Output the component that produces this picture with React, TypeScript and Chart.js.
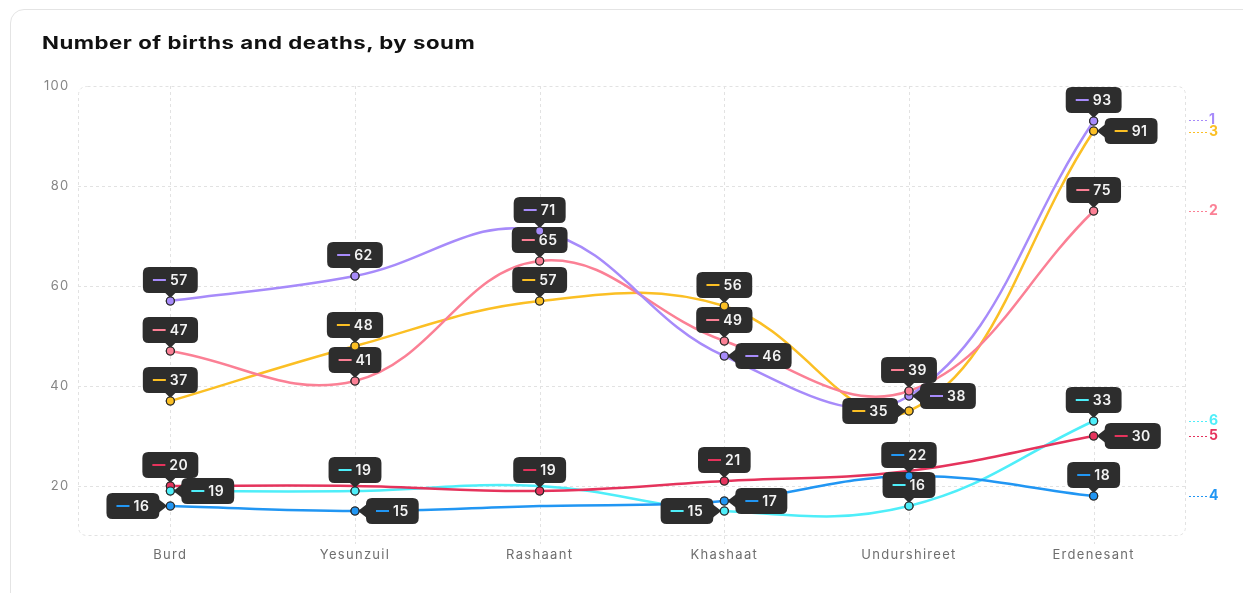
import React, { useEffect, useRef } from "react";
import { Chart, registerables } from "chart.js";

Chart.register(...registerables);

const categories = ["Burd", "Yesunzuil", "Rashaant", "Khashaat", "Undurshireet", "Erdenesant"];
const seriesNames = ["1", "2", "3", "4", "5", "6"];
const series1 = [57, 62, 71, 46, 38, 93];
const series2 = [47, 41, 65, 49, 39, 75];
const series3 = [37, 48, 57, 56, 35, 91];
const series4 = [16, 15, 16, 17, 22, 18];
const series5 = [20, 20, 19, 21, 23, 30];
const series6 = [19, 19, 20, 15, 16, 33];
const yTicks = [20, 40, 60, 80, 100];

const colors = ["#a78bfa", "#fb8095", "#fbbf24", "#2196f3", "#e5335c", "#4eeef9"];
// where each value badge sits relative to its point (null = no marker, no badge)
const labelSides: (string | null)[][] = [
  ["top", "top", "top", "right", "right", "top"],
  ["top", "top", "top", "top", "top", "top"],
  ["top", "top", "top", "top", "left", "right"],
  ["left", "right", null, "right", "top", "top"],
  ["top", null, "top", "top", null, "right"],
  ["right", "top", null, "left", "top", "top"],
];

const FONT = "Inter, 'Noto Sans', sans-serif";

function rr(ctx: CanvasRenderingContext2D, x: number, y: number, w: number, h: number, r: number) {
  ctx.beginPath();
  ctx.moveTo(x + r, y);
  ctx.lineTo(x + w - r, y);
  ctx.quadraticCurveTo(x + w, y, x + w, y + r);
  ctx.lineTo(x + w, y + h - r);
  ctx.quadraticCurveTo(x + w, y + h, x + w - r, y + h);
  ctx.lineTo(x + r, y + h);
  ctx.quadraticCurveTo(x, y + h, x, y + h - r);
  ctx.lineTo(x, y + r);
  ctx.quadraticCurveTo(x, y, x + r, y);
  ctx.closePath();
}

const spacingPlugin = {
  id: "spacing",
  beforeDraw(chart: any) {
    (chart.ctx as any).letterSpacing = "1.3px";
  },
};

const gridPlugin = {
  id: "dashGrid",
  beforeDatasetsDraw(chart: any) {
    const { ctx, chartArea: a, scales } = chart;
    ctx.save();
    ctx.strokeStyle = "#e2e2e2";
    ctx.lineWidth = 1;
    ctx.setLineDash([3, 3]);
    rr(ctx, a.left + 0.5, a.top + 0.5, a.right - a.left - 1, a.bottom - a.top - 1, 9);
    ctx.stroke();
    yTicks.forEach((v) => {
      if (v >= 100) return;
      const py = Math.round(scales.y.getPixelForValue(v)) + 0.5;
      ctx.beginPath();
      ctx.moveTo(a.left, py);
      ctx.lineTo(a.right, py);
      ctx.stroke();
    });
    categories.forEach((_, i) => {
      const px = Math.round(scales.x.getPixelForValue(i)) + 0.5;
      ctx.beginPath();
      ctx.moveTo(px, a.top);
      ctx.lineTo(px, a.bottom + 8);
      ctx.stroke();
    });
    ctx.restore();
  },
};

function drawBadge(ctx: CanvasRenderingContext2D, px: number, py: number, text: string, color: string, side: string) {
  ctx.font = `600 14px ${FONT}`;
  const tw = ctx.measureText(text).width;
  const w = 10 + 13 + 4 + tw + 10;
  const h = 26;
  let bx: number, by: number;
  if (side === "top") {
    bx = px - w / 2;
    by = py - 8 - h;
  } else if (side === "right") {
    bx = px + 11;
    by = py - h / 2;
  } else {
    bx = px - 11 - w;
    by = py - h / 2;
  }
  ctx.fillStyle = "#2d2d2d";
  rr(ctx, bx, by, w, h, 6);
  ctx.fill();
  ctx.beginPath();
  if (side === "top") {
    ctx.moveTo(px - 6, by + h - 1);
    ctx.lineTo(px + 6, by + h - 1);
    ctx.lineTo(px, py - 3);
  } else if (side === "right") {
    ctx.moveTo(bx + 1, py - 7);
    ctx.lineTo(bx + 1, py + 7);
    ctx.lineTo(px + 3, py);
  } else {
    ctx.moveTo(bx + w - 1, py - 7);
    ctx.lineTo(bx + w - 1, py + 7);
    ctx.lineTo(px - 3, py);
  }
  ctx.closePath();
  ctx.fill();
  const cy = by + h / 2;
  ctx.strokeStyle = color;
  ctx.lineWidth = 2;
  ctx.setLineDash([]);
  ctx.beginPath();
  ctx.moveTo(bx + 10, cy);
  ctx.lineTo(bx + 23, cy);
  ctx.stroke();
  ctx.fillStyle = "#f3f3f3";
  ctx.textAlign = "left";
  ctx.textBaseline = "middle";
  ctx.fillText(text, bx + 27, cy + 0.5);
}

const badgePlugin = {
  id: "badges",
  afterDatasetsDraw(chart: any) {
    const { ctx, chartArea: a } = chart;
    ctx.save();
    (ctx as any).letterSpacing = "0.5px";
    chart.data.datasets.forEach((ds: any, di: number) => {
      const meta = chart.getDatasetMeta(di);
      meta.data.forEach((pt: any, i: number) => {
        const v = ds.data[i];
        const side = labelSides[di][i];
        if (v == null || !side) return;
        drawBadge(ctx, pt.x, pt.y, String(v), colors[di], side);
      });
    });
    ctx.restore();
    // markers on top of badges
    chart.data.datasets.forEach((ds: any, di: number) => {
      const meta = chart.getDatasetMeta(di);
      meta.data.forEach((pt: any, i: number) => {
        if (!labelSides[di][i]) return;
        pt.draw(ctx, a);
      });
    });
    // end-of-line series labels
    const ends = chart.data.datasets.map((ds: any, di: number) => {
      const meta = chart.getDatasetMeta(di);
      const last = meta.data[meta.data.length - 1];
      return { di, y: last.y };
    });
    ends.sort((p: any, q: any) => p.y - q.y);
    const gap = 12;
    for (let k = 1; k < ends.length; k++) {
      if (ends[k].y - ends[k - 1].y < gap) {
        const mid = (ends[k].y + ends[k - 1].y) / 2;
        ends[k - 1].y = mid - gap / 2;
        ends[k].y = mid + gap / 2;
      }
    }
    ctx.save();
    (ctx as any).letterSpacing = "0px";
    ends.forEach((e: any) => {
      const c = colors[e.di];
      ctx.strokeStyle = c;
      ctx.lineWidth = 1;
      ctx.setLineDash([2, 2]);
      ctx.beginPath();
      ctx.moveTo(a.right + 3, Math.round(e.y) + 0.5);
      ctx.lineTo(a.right + 21, Math.round(e.y) + 0.5);
      ctx.stroke();
      ctx.fillStyle = c;
      ctx.font = `700 14px ${FONT}`;
      ctx.textAlign = "left";
      ctx.textBaseline = "middle";
      ctx.fillText(seriesNames[e.di], a.right + 23, e.y);
    });
    ctx.restore();
  },
};

export default function App() {
  const ref = useRef<HTMLCanvasElement>(null);
  useEffect(() => {
    if (!ref.current) return;
    const data = [series1, series2, series3, series4, series5, series6];
    const chart = new Chart(ref.current, {
      type: "line",
      data: {
        labels: categories,
        datasets: data.map((d, i) => ({
          label: seriesNames[i],
          data: d,
          borderColor: colors[i],
          backgroundColor: colors[i],
          borderWidth: 2.5,
          tension: 0.4,
          spanGaps: true,
          pointRadius: (c: any) => (labelSides[c.datasetIndex][c.dataIndex] ? 4 : 0),
          pointBorderWidth: 1.2,
          pointBorderColor: "#2a2a2a",
          pointBackgroundColor: colors[i],
          fill: false,
        })),
      },
      options: {
        responsive: false,
        animation: false,
        devicePixelRatio: 1,
        layout: { padding: { top: 86, right: 57, bottom: 0, left: 0 } },
        plugins: {
          legend: { display: false },
          tooltip: { enabled: false },
          title: { display: false },
        },
        scales: {
          x: {
            type: "category",
            offset: true,
            grid: { display: false, drawTicks: false },
            border: { display: false },
            ticks: { color: "#6e6e6e", font: { family: FONT, size: 13 }, padding: 11, maxRotation: 0, autoSkip: false },
            afterFit: (s: any) => {
              s.height = 57;
            },
          },
          y: {
            min: 10,
            max: 100,
            grid: { display: false, drawTicks: false },
            border: { display: false },
            ticks: { color: "#858585", font: { family: FONT, size: 13 }, padding: 8.5 },
            afterBuildTicks: (s: any) => {
              s.ticks = yTicks.map((v) => ({ value: v }));
            },
            afterFit: (s: any) => {
              s.width = 78;
            },
          },
        },
      } as any,
      plugins: [spacingPlugin, gridPlugin, badgePlugin],
    });
    return () => chart.destroy();
  }, []);

  return (
    <div>
      <div
        style={{
          position: "absolute",
          left: 10,
          top: 9,
          width: 1260,
          height: 640,
          border: "1px solid #e4e4e4",
          borderRadius: 14,
          background: "#fff",
          boxSizing: "border-box",
        }}
      />
      <canvas
        ref={ref}
        width={1243}
        height={593}
        style={{ position: "absolute", left: 0, top: 0, width: 1243, height: 593, display: "block" }}
      />
      <div
        style={{
          position: "absolute",
          left: 42,
          top: 32,
          fontFamily: FONT,
          fontWeight: 700,
          fontSize: 17.5,
          lineHeight: "21px",
          letterSpacing: "0.4px",
          color: "#111",
          whiteSpace: "nowrap",
          transform: "scaleX(1.27)",
          transformOrigin: "left center",
        }}
      >
        Number of births and deaths, by soum
      </div>
    </div>
  );
}
